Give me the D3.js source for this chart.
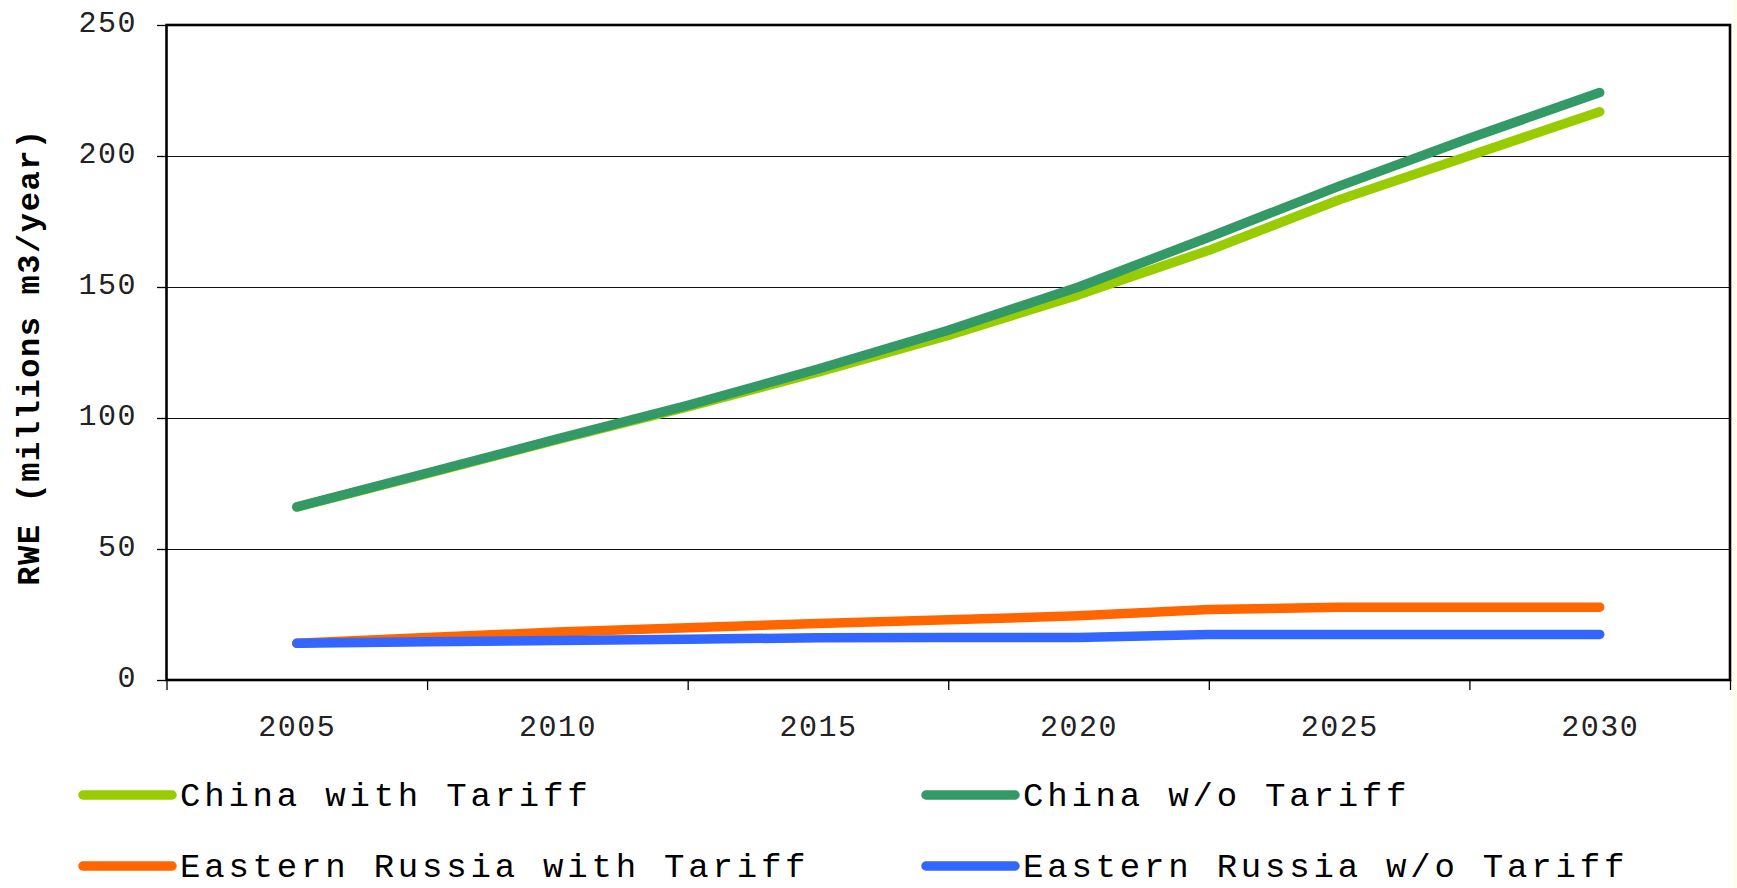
<!DOCTYPE html>
<html>
<head>
<meta charset="utf-8">
<script src="https://cdnjs.cloudflare.com/ajax/libs/d3/7.8.5/d3.min.js"></script>
<style>
html, body { margin: 0; padding: 0; background: #ffffe6; overflow: hidden; }
svg { display: block; background: #fff; }
</style>
</head>
<body>
<div id="chart"></div>
<script>
// values, one point every 2.5 years
var years = [2005, 2007.5, 2010, 2012.5, 2015, 2017.5, 2020, 2022.5, 2025, 2027.5, 2030];
var chinaTariff   = [66, 78.8, 91.7, 104.2, 117.5, 131.5, 147, 164, 183.3, 200.1, 216.9];
var chinaNoTariff = [66.1, 79, 92, 104.8, 118.7, 133.5, 150, 169, 188.5, 206.8, 224.2];
var russiaTariff   = [14, 16.2, 18.3, 19.9, 21.6, 23, 24.5, 26.9, 27.8, 27.8, 27.8];
var russiaNoTariff = [14, 14.6, 15.1, 15.6, 16.1, 16.2, 16.2, 17.4, 17.4, 17.4, 17.4];

var labelYears = [2005, 2010, 2015, 2020, 2025, 2030];
var yTicks = [0, 50, 100, 150, 200, 250];
var seriesNames = ["China with Tariff", "China w/o Tariff", "Eastern Russia with Tariff", "Eastern Russia w/o Tariff"];
var seriesColors = ["#99cc00", "#339966", "#ff6600", "#3366ff"];
var seriesValues = [chinaTariff, chinaNoTariff, russiaTariff, russiaNoTariff];

var width = 1733, height = 888;
var plotLeft = 166.5, plotRight = 1730, plotTop = 25, plotBottom = 680;
var mono = "'Liberation Mono', 'Courier New', monospace";

var svg = d3.select("#chart").append("svg")
    .attr("width", width)
    .attr("height", height);

var x = d3.scaleLinear().domain([2002.5, 2032.5]).range([plotLeft, plotRight]);
var y = d3.scaleLinear().domain([0, 250]).range([plotBottom, plotTop]);

// gridlines
svg.append("g")
    .attr("transform", "translate(" + plotLeft + ",0)")
    .call(d3.axisLeft(y).tickValues(yTicks.slice(1, -1)).tickSize(-(plotRight - plotLeft)).tickFormat(""))
    .call(function(g) { g.select(".domain").remove(); })
    .selectAll("line").attr("stroke", "#111").attr("stroke-width", 1.2);

// y axis ticks + labels
var yAxis = svg.append("g")
    .attr("transform", "translate(" + plotLeft + ",0)")
    .call(d3.axisLeft(y).tickValues(yTicks).tickSize(9.5).tickPadding(20));
yAxis.select(".domain").remove();
yAxis.selectAll("line").attr("stroke", "#000").attr("stroke-width", 1.3);
yAxis.selectAll("text")
    .attr("font-family", mono)
    .attr("font-size", "30px")
    .attr("letter-spacing", "1.5px")
    .attr("fill", "#222")
    .attr("dy", "0.22em");

// x axis tick marks between categories
var xTickPos = d3.range(2002.5, 2033, 5);
var xMarks = svg.append("g")
    .attr("transform", "translate(0," + plotBottom + ")")
    .call(d3.axisBottom(x).tickValues(xTickPos).tickSize(10).tickFormat(""));
xMarks.select(".domain").remove();
xMarks.selectAll("line").attr("stroke", "#000").attr("stroke-width", 1.3);

// x labels centred in categories
var xLabels = svg.append("g")
    .attr("transform", "translate(0," + plotBottom + ")")
    .call(d3.axisBottom(x).tickValues(labelYears).tickSize(0).tickPadding(35).tickFormat(d3.format("d")));
xLabels.select(".domain").remove();
xLabels.selectAll("text")
    .attr("font-family", mono)
    .attr("font-size", "30px")
    .attr("letter-spacing", "1.5px")
    .attr("fill", "#222");

// plot frame
svg.append("rect")
    .attr("x", plotLeft)
    .attr("y", plotTop)
    .attr("width", plotRight - plotLeft)
    .attr("height", plotBottom - plotTop)
    .attr("fill", "none")
    .attr("stroke", "#000")
    .attr("stroke-width", 2.6);

// y axis title
svg.append("text")
    .attr("transform", "translate(39,357) rotate(-90)")
    .attr("text-anchor", "middle")
    .attr("font-family", mono)
    .attr("font-weight", "bold")
    .attr("font-size", "32px")
    .attr("letter-spacing", "1.6px")
    .attr("fill", "#000")
    .text("RWE (millions m3/year)");

// lines
var line = d3.line()
    .x(function(d, i) { return x(years[i]); })
    .y(function(d) { return y(d); });

svg.selectAll(".series")
    .data(seriesValues)
  .enter().append("path")
    .attr("class", "series")
    .attr("d", line)
    .attr("fill", "none")
    .attr("stroke", function(d, i) { return seriesColors[i]; })
    .attr("stroke-width", 9.5)
    .attr("stroke-linecap", "round")
    .attr("stroke-linejoin", "round");

// legend, two columns
var legendX = [83, 926], legendY = [795, 866];
var legend = svg.selectAll(".legend")
    .data(seriesNames)
  .enter().append("g")
    .attr("class", "legend")
    .attr("transform", function(d, i) { return "translate(" + legendX[i % 2] + "," + legendY[Math.floor(i / 2)] + ")"; });

legend.append("line")
    .attr("x1", 0).attr("x2", 89)
    .attr("stroke", function(d, i) { return seriesColors[i]; })
    .attr("stroke-width", 9.5)
    .attr("stroke-linecap", "round");

legend.append("text")
    .attr("x", 97)
    .attr("y", 11)
    .attr("font-family", mono)
    .attr("font-size", "34px")
    .attr("letter-spacing", "3.8px")
    .attr("fill", "#000")
    .text(function(d) { return d; });
</script>
</body>
</html>
